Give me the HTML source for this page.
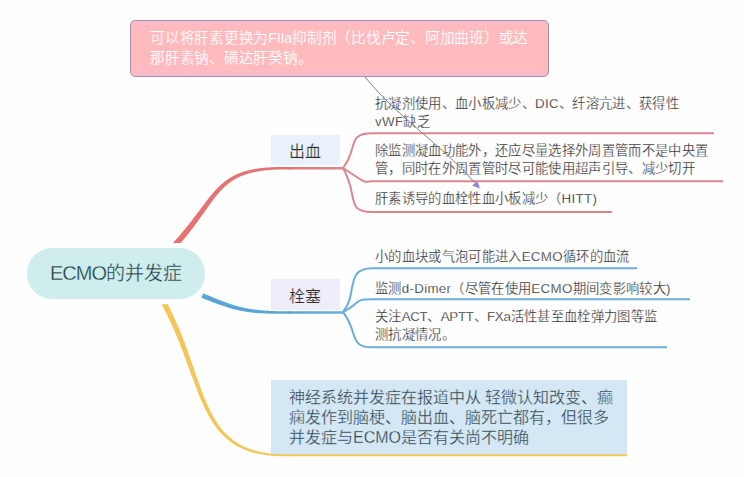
<!DOCTYPE html>
<html lang="zh-CN">
<head>
<meta charset="utf-8">
<style>
html,body{margin:0;padding:0;}
body{width:744px;height:477px;overflow:hidden;background:#fefefe;position:relative;font-family:"Liberation Sans",sans-serif;}
svg{position:absolute;left:0;top:0;}
.t{position:absolute;white-space:nowrap;}
.sub{font-size:13.33px;letter-spacing:0.33px;line-height:18px;color:#202020;-webkit-text-stroke:0.25px #fefefe;}
.pink{position:absolute;left:130px;top:20px;width:419px;height:57px;background:linear-gradient(#f2bcd4 0px,#fcbac4 3px,#ffbabd 6px,#ffbabd 47px,#f8bccc 54px,#f0c0d8 57px);border:1px solid #ae8ca6;border-radius:5px;box-sizing:border-box;}
.pinktxt{left:150px;top:28px;font-size:14.67px;letter-spacing:-0.25px;line-height:20px;color:#ffffff;-webkit-text-stroke:0.12px #ffbabd;}
.pill{position:absolute;left:27px;top:248px;width:178px;height:51px;border-radius:25px;background:#d0edee;}
.center{left:50px;top:260px;font-size:19px;line-height:26px;color:#223c40;-webkit-text-stroke:0.3px #d0edee;}
.lab{position:absolute;left:271px;width:69px;height:30px;}
.labt{font-size:16px;line-height:20px;color:#2a2a2a;-webkit-text-stroke:0.22px #eef0fb;}
.bbox{position:absolute;left:271px;top:380px;width:356px;height:75px;background:#d3e7f4;}
.btxt{left:289px;top:388px;font-size:16px;line-height:20px;color:#2a3844;-webkit-text-stroke:0.3px #d3e7f4;}
</style>
</head>
<body>
<div class="pink"></div>
<div class="t pinktxt">可以将肝素更换为FIIa抑制剂（比伐卢定、阿加曲班）或达<br>那肝素钠、磺达肝癸钠。</div>
<div class="lab" style="top:135px;background:#e9f2fb;"></div>
<div class="lab" style="top:279px;height:31px;background:#f0edfb;"></div>
<div class="bbox"></div>
<svg width="744" height="477" viewBox="0 0 744 477">
<defs>
<linearGradient id="rg" gradientUnits="userSpaceOnUse" x1="285" y1="0" x2="335" y2="0"><stop offset="0" stop-color="#e57373"/><stop offset="1" stop-color="#de858d"/></linearGradient>
<linearGradient id="bg" gradientUnits="userSpaceOnUse" x1="285" y1="0" x2="335" y2="0"><stop offset="0" stop-color="#5aa5d8"/><stop offset="1" stop-color="#68addb"/></linearGradient>
</defs>
<path d="M180.68,243.00 L180.60,243.04 L182.19,241.18 L183.74,239.34 L185.24,237.53 L186.70,235.74 L188.12,233.97 L189.50,232.22 L190.85,230.50 L192.16,228.80 L193.44,227.13 L194.68,225.48 L195.89,223.85 L197.07,222.25 L198.23,220.67 L199.36,219.11 L200.46,217.58 L201.54,216.07 L202.60,214.59 L203.63,213.13 L204.65,211.70 L205.65,210.29 L206.63,208.90 L207.60,207.54 L208.56,206.21 L209.50,204.90 L210.43,203.61 L211.35,202.35 L212.27,201.11 L213.18,199.90 L214.08,198.71 L214.99,197.55 L215.89,196.41 L216.79,195.30 L217.69,194.21 L218.59,193.15 L219.50,192.11 L220.41,191.09 L221.33,190.10 L222.26,189.13 L223.20,188.19 L224.15,187.27 L225.12,186.37 L226.09,185.50 L227.09,184.65 L228.10,183.83 L229.14,183.03 L230.19,182.25 L231.27,181.49 L232.37,180.76 L233.50,180.05 L234.66,179.36 L235.85,178.69 L237.06,178.05 L238.32,177.43 L239.60,176.83 L240.92,176.25 L242.29,175.70 L243.69,175.16 L245.13,174.65 L246.61,174.17 L248.14,173.71 L249.72,173.26 L251.34,172.85 L253.02,172.45 L254.74,172.08 L256.52,171.74 L258.34,171.41 L260.23,171.11 L262.17,170.84 L264.17,170.58 L266.23,170.35 L268.35,170.15 L270.53,169.97 L272.77,169.81 L275.08,169.68 L277.46,169.58 L279.90,169.49 L282.42,169.43 L285.00,169.40 L290.00,169.40 L290.00,167.00 L285.00,167.00 L282.39,166.99 L279.85,167.01 L277.38,167.05 L274.97,167.11 L272.63,167.20 L270.35,167.32 L268.13,167.46 L265.97,167.62 L263.87,167.81 L261.82,168.03 L259.83,168.27 L257.89,168.53 L256.01,168.82 L254.17,169.13 L252.38,169.47 L250.64,169.84 L248.95,170.23 L247.30,170.65 L245.69,171.09 L244.12,171.55 L242.59,172.05 L241.11,172.56 L239.65,173.11 L238.24,173.68 L236.86,174.27 L235.51,174.89 L234.19,175.54 L232.90,176.21 L231.65,176.91 L230.42,177.63 L229.21,178.37 L228.03,179.15 L226.88,179.94 L225.75,180.77 L224.64,181.61 L223.55,182.48 L222.48,183.38 L221.42,184.30 L220.38,185.24 L219.36,186.20 L218.35,187.19 L217.35,188.20 L216.36,189.24 L215.38,190.29 L214.41,191.37 L213.44,192.48 L212.47,193.60 L211.51,194.75 L210.55,195.91 L209.59,197.10 L208.62,198.31 L207.66,199.55 L206.68,200.80 L205.71,202.08 L204.72,203.38 L203.72,204.70 L202.71,206.04 L201.69,207.41 L200.66,208.79 L199.61,210.20 L198.54,211.63 L197.45,213.08 L196.34,214.55 L195.21,216.05 L194.06,217.56 L192.88,219.10 L191.68,220.66 L190.45,222.24 L189.19,223.84 L187.90,225.47 L186.57,227.11 L185.22,228.78 L183.82,230.47 L182.39,232.18 L180.92,233.92 L179.41,235.67 L177.86,237.45 L176.27,239.25 L172.92,243.00Z" fill="#e57373"/>
<path d="M201.41,297.83 L202.64,298.31 L203.86,298.78 L205.06,299.24 L206.24,299.69 L207.39,300.14 L208.53,300.57 L209.66,301.00 L210.76,301.42 L211.85,301.83 L212.93,302.23 L213.99,302.63 L215.03,303.02 L216.06,303.39 L217.08,303.76 L218.09,304.13 L219.08,304.48 L220.06,304.83 L221.04,305.17 L222.00,305.50 L222.95,305.83 L223.90,306.14 L224.84,306.45 L225.77,306.75 L226.69,307.05 L227.61,307.34 L228.52,307.62 L229.42,307.89 L230.33,308.16 L231.23,308.41 L232.12,308.67 L233.01,308.91 L233.91,309.15 L234.80,309.38 L235.69,309.60 L236.58,309.82 L237.47,310.03 L238.36,310.24 L239.25,310.44 L240.15,310.63 L241.05,310.81 L241.95,310.99 L242.85,311.16 L243.77,311.33 L244.68,311.49 L245.61,311.64 L246.53,311.79 L247.47,311.93 L248.42,312.06 L249.37,312.19 L250.33,312.32 L251.30,312.43 L252.28,312.55 L253.28,312.65 L254.28,312.75 L255.30,312.85 L256.33,312.94 L257.37,313.02 L258.43,313.10 L259.50,313.18 L260.58,313.25 L261.69,313.31 L262.81,313.37 L263.94,313.43 L265.10,313.48 L266.27,313.52 L267.46,313.56 L268.67,313.60 L269.91,313.63 L271.16,313.66 L272.44,313.68 L273.73,313.70 L275.05,313.71 L276.40,313.72 L277.77,313.73 L279.16,313.73 L280.58,313.73 L282.03,313.72 L283.50,313.71 L285.00,313.70 L290.00,313.70 L290.00,311.30 L285.00,311.30 L283.51,311.28 L282.04,311.26 L280.60,311.24 L279.19,311.21 L277.80,311.18 L276.44,311.14 L275.11,311.10 L273.80,311.06 L272.51,311.01 L271.25,310.95 L270.00,310.90 L268.78,310.84 L267.59,310.77 L266.41,310.70 L265.25,310.63 L264.11,310.55 L262.99,310.46 L261.89,310.37 L260.81,310.28 L259.74,310.18 L258.69,310.08 L257.65,309.97 L256.63,309.86 L255.63,309.74 L254.63,309.61 L253.65,309.49 L252.69,309.35 L251.73,309.21 L250.79,309.07 L249.85,308.92 L248.93,308.76 L248.01,308.60 L247.11,308.43 L246.21,308.26 L245.32,308.08 L244.43,307.90 L243.55,307.71 L242.68,307.51 L241.81,307.31 L240.95,307.10 L240.08,306.89 L239.23,306.67 L238.37,306.44 L237.51,306.20 L236.65,305.96 L235.80,305.72 L234.94,305.46 L234.08,305.20 L233.22,304.94 L232.36,304.66 L231.49,304.38 L230.62,304.09 L229.75,303.80 L228.87,303.50 L227.98,303.19 L227.08,302.87 L226.18,302.55 L225.27,302.21 L224.36,301.87 L223.43,301.53 L222.49,301.17 L221.54,300.81 L220.58,300.44 L219.61,300.06 L218.63,299.67 L217.63,299.28 L216.62,298.88 L215.60,298.46 L214.56,298.04 L213.50,297.62 L212.43,297.18 L211.34,296.73 L210.23,296.28 L209.11,295.82 L207.97,295.35 L206.80,294.87 L205.62,294.38 L204.42,293.88 L203.19,293.37Z" fill="#5aa5d8"/>
<path d="M161.60,304.20 L163.88,308.57 L165.46,311.66 L166.98,314.73 L168.46,317.79 L169.90,320.83 L171.29,323.86 L172.65,326.87 L173.97,329.86 L175.25,332.84 L176.49,335.79 L177.71,338.73 L178.89,341.65 L180.05,344.54 L181.17,347.42 L182.28,350.27 L183.35,353.11 L184.41,355.91 L185.45,358.70 L186.47,361.46 L187.47,364.20 L188.46,366.91 L189.44,369.59 L190.41,372.25 L191.36,374.88 L192.32,377.48 L193.26,380.05 L194.21,382.60 L195.15,385.11 L196.09,387.59 L197.04,390.04 L197.99,392.46 L198.94,394.85 L199.91,397.20 L200.88,399.52 L201.87,401.80 L202.87,404.05 L203.89,406.26 L204.92,408.44 L205.97,410.57 L207.05,412.67 L208.15,414.73 L209.27,416.75 L210.42,418.73 L211.60,420.67 L212.81,422.57 L214.06,424.42 L215.34,426.23 L216.65,427.99 L218.01,429.71 L219.40,431.39 L220.84,433.01 L222.32,434.59 L223.84,436.12 L225.42,437.60 L227.04,439.03 L228.71,440.40 L230.44,441.73 L232.22,443.00 L234.06,444.22 L235.95,445.38 L237.90,446.49 L239.91,447.54 L241.99,448.53 L244.12,449.47 L246.33,450.35 L248.60,451.17 L250.94,451.93 L253.34,452.63 L255.83,453.27 L258.38,453.85 L261.01,454.37 L263.72,454.82 L266.51,455.22 L269.37,455.55 L272.32,455.82 L275.36,456.02 L278.48,456.16 L281.70,456.24 L285.00,456.25 L627.00,456.25 L627.00,454.35 L285.00,454.35 L281.74,454.29 L278.57,454.17 L275.49,453.99 L272.50,453.74 L269.61,453.44 L266.80,453.06 L264.08,452.63 L261.44,452.14 L258.88,451.59 L256.40,450.98 L254.00,450.32 L251.68,449.59 L249.43,448.82 L247.25,447.98 L245.14,447.09 L243.11,446.15 L241.13,445.16 L239.23,444.11 L237.38,443.01 L235.59,441.86 L233.87,440.66 L232.19,439.41 L230.57,438.12 L229.01,436.77 L227.49,435.37 L226.02,433.93 L224.59,432.44 L223.21,430.90 L221.87,429.31 L220.57,427.68 L219.30,426.01 L218.07,424.28 L216.88,422.52 L215.72,420.71 L214.59,418.85 L213.48,416.95 L212.41,415.01 L211.35,413.03 L210.32,411.00 L209.32,408.93 L208.33,406.83 L207.36,404.68 L206.40,402.49 L205.46,400.27 L204.53,398.00 L203.61,395.70 L202.70,393.36 L201.80,390.99 L200.90,388.58 L200.01,386.13 L199.11,383.65 L198.22,381.14 L197.32,378.59 L196.42,376.01 L195.52,373.40 L194.60,370.76 L193.68,368.09 L192.74,365.39 L191.79,362.65 L190.83,359.89 L189.85,357.11 L188.85,354.29 L187.83,351.45 L186.78,348.58 L185.72,345.69 L184.62,342.77 L183.50,339.83 L182.35,336.87 L181.16,333.88 L179.94,330.87 L178.69,327.84 L177.40,324.79 L176.06,321.72 L174.69,318.64 L173.27,315.53 L171.81,312.40 L170.30,309.26 L168.75,306.10 L167.80,304.20Z" fill="#f4c65a"/>
<path d="M288,168.2 L344,168.2" stroke="url(#rg)" stroke-width="2.4"/>
<g fill="none" stroke="#dd858e" stroke-width="2">
<path d="M343,168 C358.4,148.7 346.4,133.3 372,133.3 L714,133.3"/>
<path d="M343,168 C371.5,186.6 361.7,181.2 372,181.2 L723,181.2"/>
<path d="M343,168 C359.1,196.1 345,212 372,212 L612,212"/>
</g>
<path d="M288,312.5 L344,312.5" stroke="url(#bg)" stroke-width="2.4"/>
<g fill="none" stroke="#6aafdc" stroke-width="2">
<path d="M343,312 C358.2,294.2 344.4,268.3 372,268.3 L637,268.3"/>
<path d="M343,312 C362.4,302.1 352.9,299.2 372,299.2 L690,299.2"/>
<path d="M343,312 C358.3,330.9 348.2,347.3 372,347.3 L667,347.3"/>
</g>
<path d="M365,77 C396.4,116.3 440.4,143.4 476,184" fill="none" stroke="#80808e" stroke-width="1"/>
<path d="M480,188.5 L472,185.5 L477.5,181.5 Z" fill="#9383d3"/>
</svg>
<div class="pill"></div>
<div class="t center"><span style="letter-spacing:-1px;font-size:20px">ECMO</span>的并发症</div>
<div class="t labt" style="left:289px;top:142px;letter-spacing:0px;">出血</div>
<div class="t labt" style="left:289px;top:287px;letter-spacing:0px;">栓塞</div>
<div class="t sub" style="left:375px;top:95px;">抗凝剂使用、血小板减少、DIC、纤溶亢进、获得性<br>vWF缺乏</div>
<div class="t sub" style="left:375px;top:142px;">除监测凝血功能外，还应尽量选择外周置管而不是中央置<br>管，同时在外周置管时尽可能使用超声引导、减少切开</div>
<div class="t sub" style="left:375px;top:190px;">肝素诱导的血栓性血小板减少（HITT)</div>
<div class="t sub" style="left:375px;top:248px;">小的血块或气泡可能进入ECMO循环的血流</div>
<div class="t sub" style="left:375px;top:280px;">监测d-Dimer（尽管在使用ECMO期间变影响较大)</div>
<div class="t sub" style="left:375px;top:308px;">关注<span style="letter-spacing:-0.3px">ACT</span>、<span style="letter-spacing:-0.3px">APTT</span>、<span style="letter-spacing:-0.3px">FXa</span>活性甚至血栓弹力图等监<br>测抗凝情况。</div>
<div class="t btxt">神经系统并发症在报道中从 轻微认知改变、癫<br>痫发作到脑梗、脑出血、脑死亡都有，但很多<br>并发症与ECMO是否有关尚不明确</div>
</body>
</html>
